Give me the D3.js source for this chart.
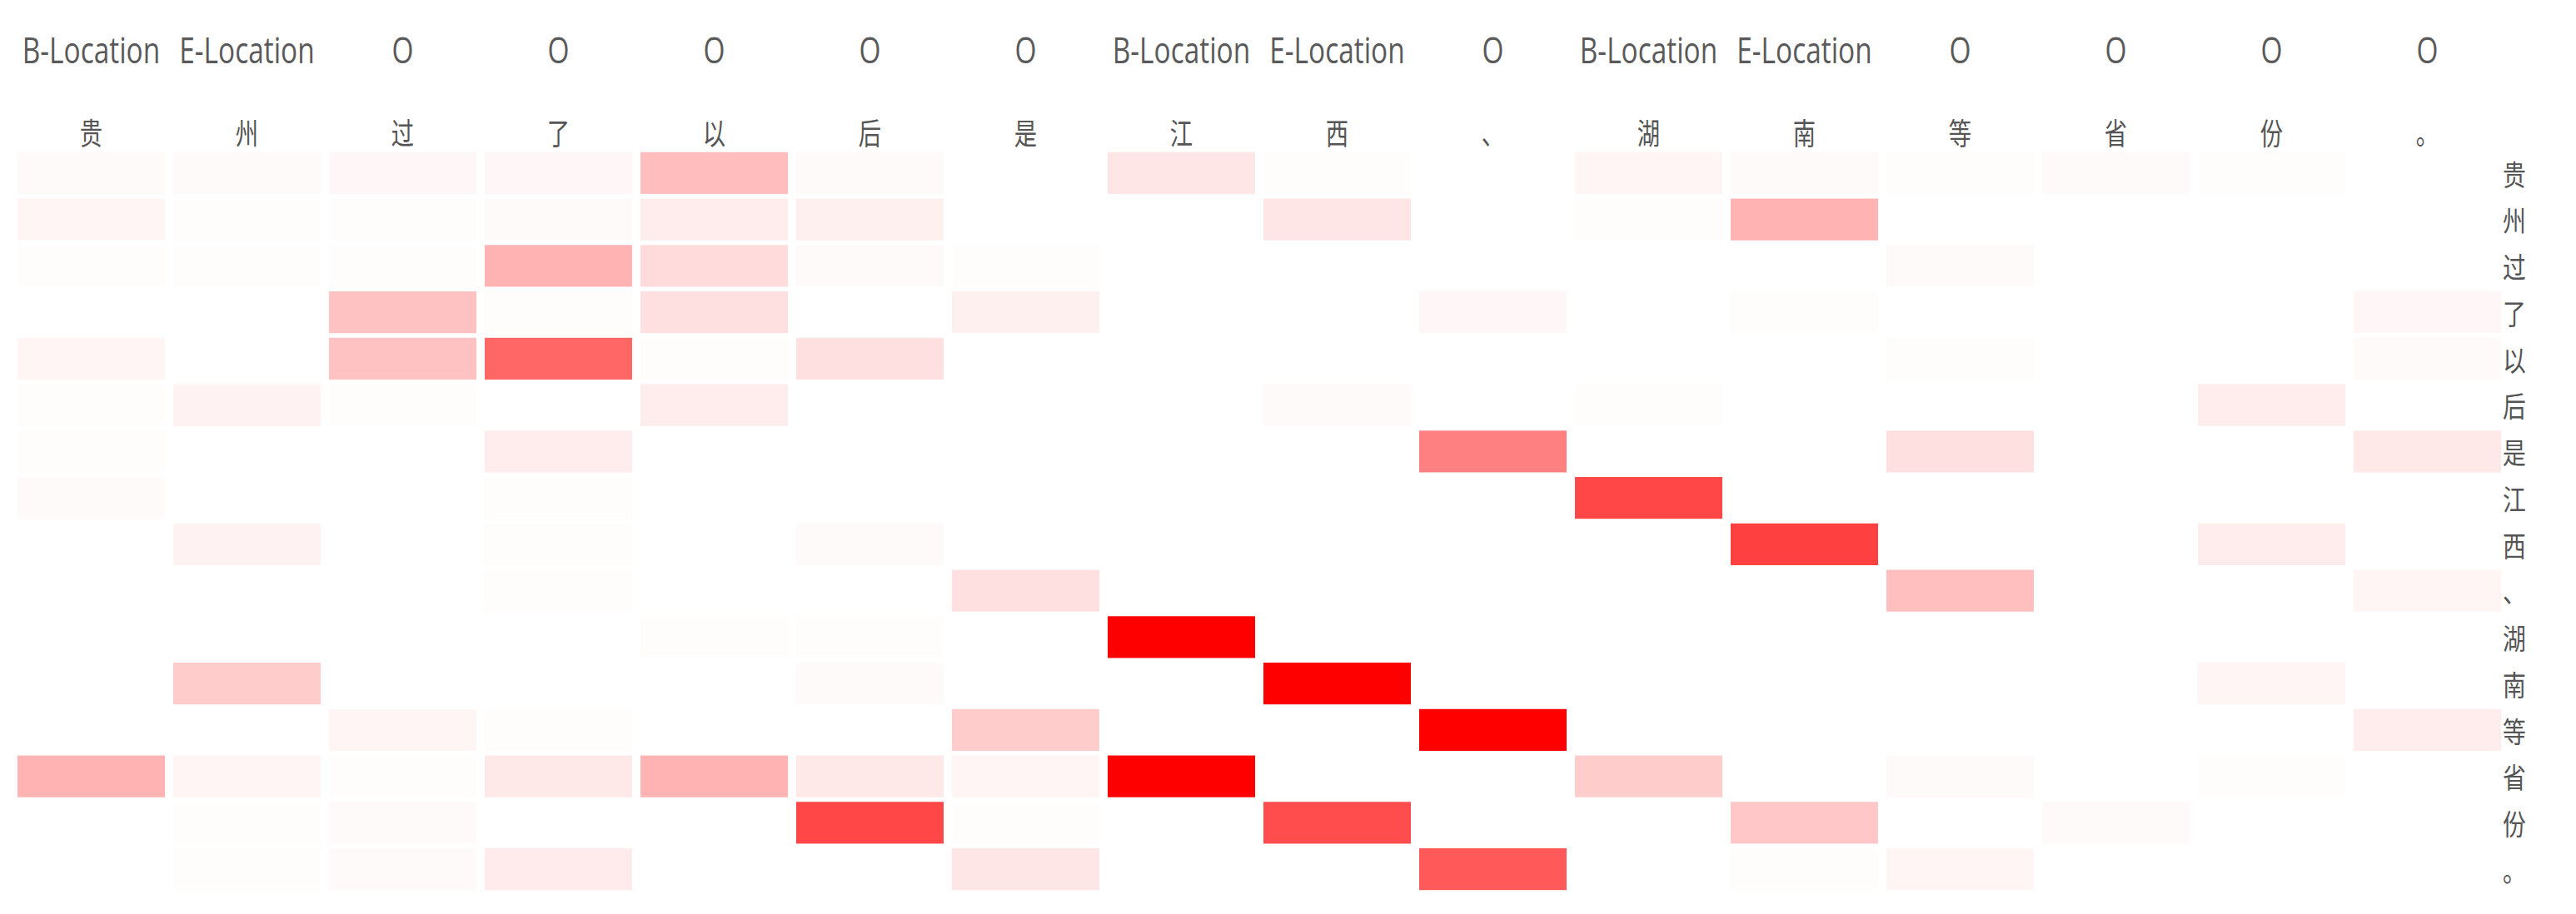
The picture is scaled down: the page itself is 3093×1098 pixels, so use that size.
<!DOCTYPE html>
<html>
<head>
<meta charset="utf-8">
<script src="https://cdn.jsdelivr.net/npm/d3@7"></script>
<style>
  html, body { margin: 0; padding: 0; background: #fff; }
  svg { display: block; }
</style>
</head>
<body>
<svg id="chart" width="3093" height="1098"></svg>
<script>
// Column tags (NER labels) and tokens
const tags = ["B-Location","E-Location","O","O","O","O","O","B-Location","E-Location","O","B-Location","E-Location","O","O","O","O"];
const tokens = ["贵","州","过","了","以","后","是","江","西","、","湖","南","等","省","份","。"];
const rowTokens = ["贵","州","过","了","以","后","是","江","西","、","湖","南","等","省","份","。"];

// Attention weights: one row per rowTokens entry, one value per column token
const weights = [
  [0.02,0.02,0.03,0.03,0.26,0.02,0.00,0.10,0.01,0.00,0.04,0.02,0.01,0.02,0.01,0.00],
  [0.04,0.01,0.01,0.02,0.07,0.06,0.00,0.00,0.10,0.00,0.01,0.30,0.00,0.00,0.00,0.00],
  [0.01,0.01,0.01,0.30,0.14,0.02,0.01,0.00,0.00,0.00,0.00,0.00,0.02,0.00,0.00,0.00],
  [0.00,0.00,0.24,0.01,0.12,0.00,0.06,0.00,0.00,0.03,0.00,0.01,0.00,0.00,0.00,0.03],
  [0.04,0.00,0.24,0.60,0.01,0.12,0.00,0.00,0.00,0.00,0.00,0.00,0.01,0.00,0.00,0.02],
  [0.01,0.05,0.01,0.00,0.07,0.00,0.00,0.00,0.02,0.00,0.01,0.00,0.00,0.00,0.07,0.00],
  [0.01,0.00,0.00,0.07,0.00,0.00,0.00,0.00,0.00,0.50,0.00,0.00,0.12,0.00,0.00,0.09],
  [0.02,0.00,0.00,0.01,0.00,0.00,0.00,0.00,0.00,0.00,0.72,0.00,0.00,0.00,0.00,0.00],
  [0.00,0.05,0.00,0.01,0.00,0.02,0.00,0.00,0.00,0.00,0.00,0.75,0.00,0.00,0.07,0.00],
  [0.00,0.00,0.00,0.01,0.00,0.00,0.12,0.00,0.00,0.00,0.00,0.00,0.25,0.00,0.00,0.04],
  [0.00,0.00,0.00,0.00,0.01,0.01,0.00,1.00,0.00,0.00,0.00,0.00,0.00,0.00,0.00,0.00],
  [0.00,0.20,0.00,0.00,0.00,0.02,0.00,0.00,1.00,0.00,0.00,0.00,0.00,0.00,0.04,0.00],
  [0.00,0.00,0.04,0.01,0.00,0.00,0.20,0.00,0.00,1.00,0.00,0.00,0.00,0.00,0.00,0.07],
  [0.30,0.04,0.01,0.09,0.30,0.09,0.04,1.00,0.00,0.00,0.20,0.00,0.02,0.00,0.01,0.00],
  [0.00,0.01,0.02,0.00,0.00,0.72,0.01,0.00,0.70,0.00,0.00,0.22,0.00,0.02,0.00,0.00],
  [0.00,0.01,0.02,0.08,0.00,0.00,0.10,0.00,0.00,0.65,0.00,0.01,0.04,0.00,0.00,0.00]
];

const svg = d3.select("#chart");
const idx = d3.range(tokens.length);

const x = d3.scaleBand().domain(idx).range([16, 3008]).paddingInner(0.0535).paddingOuter(0.0267);
const y = d3.scaleBand().domain(idx).range([180, 1072]).paddingInner(0.1).paddingOuter(0.05);
const color = d3.scaleLinear().domain([0, 1]).range(["#ffffff", "#ff0000"]);

const cells = [];
weights.forEach((row, r) => row.forEach((v, c) => cells.push({r, c, v})));

svg.append("g").selectAll("rect")
  .data(cells)
  .join("rect")
  .attr("x", d => x(d.c))
  .attr("y", d => y(d.r))
  .attr("width", x.bandwidth())
  .attr("height", y.bandwidth())
  .attr("fill", d => color(d.v));

const sx = 0.76;
// Tag header row
svg.append("g").selectAll("text")
  .data(idx)
  .join("text")
  .attr("transform", i => `translate(${x(i) + x.bandwidth() / 2},59) scale(${sx},1)`)
  .attr("text-anchor", "middle")
  .attr("dominant-baseline", "central")
  .attr("font-family", "'Open Sans', 'Noto Sans', sans-serif")
  .attr("font-size", 44)
  .attr("fill", "#5a5a5a")
  .text(i => tags[i]);

// Token header row
svg.append("g").selectAll("text")
  .data(idx)
  .join("text")
  .attr("transform", i => `translate(${x(i) + x.bandwidth() / 2},158) scale(${sx},1)`)
  .attr("text-anchor", "middle")
  .attr("dominant-baseline", "central")
  .attr("font-family", "'Noto Sans CJK SC', sans-serif")
  .attr("font-size", 36)
  .attr("fill", "#555")
  .text(i => tokens[i]);

// Row labels on the right
svg.append("g").selectAll("text")
  .data(idx)
  .join("text")
  .attr("transform", i => `translate(3019,${y(i) + y.bandwidth() / 2}) scale(0.82,1)`)
  .attr("text-anchor", "middle")
  .attr("dominant-baseline", "central")
  .attr("font-family", "'Noto Sans CJK SC', sans-serif")
  .attr("font-size", 34)
  .attr("fill", "#555")
  .text(i => rowTokens[i]);
</script>
</body>
</html>
